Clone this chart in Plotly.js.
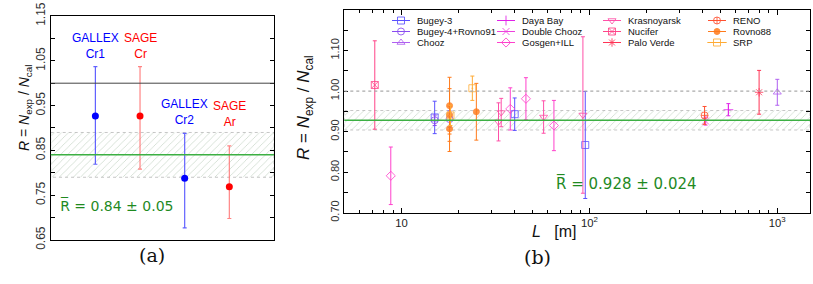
<!DOCTYPE html>
<html><head><meta charset="utf-8">
<script src="https://cdn.plot.ly/plotly-3.0.1.min.js"></script>
<style>body{margin:0;background:#fff}#c{width:813px;height:284px}</style>
</head><body><div id="c"></div><script>
// ---------- Panel (a): Gallium anomaly ----------
const aCategories = ['GALLEX Cr1', 'SAGE Cr', 'GALLEX Cr2', 'SAGE Ar'];
const aExperiment = ['GALLEX', 'SAGE', 'GALLEX', 'SAGE'];
const aR        = [0.927, 0.927, 0.788, 0.769];
const aErrPlus  = [0.110, 0.110, 0.100, 0.091];
const aErrMinus = [0.108, 0.119, 0.111, 0.071];
const aLabelY   = [1.082, 1.082, 0.935, 0.931];
const aMean = 0.84, aSigma = 0.05;

// ---------- Panel (b): reactor anomaly ----------
const bSeries = ['Bugey-3','Bugey-4+Rovno91','Chooz','Daya Bay','Double Chooz','Gosgen+ILL',
                 'Krasnoyarsk','Nucifer','Palo Verde','RENO','Rovno88','SRP'];
const bL = {
  'Bugey-3': [15, 40, 95],
  'Bugey-4+Rovno91': [15, 18],
  'Chooz': [1000],
  'Daya Bay': [549],
  'Double Chooz': [415],
  'Gosgen+ILL': [8.76, 37.9, 45.9, 64.7],
  'Krasnoyarsk': [32.8, 33.9, 57.0, 92.3],
  'Nucifer': [7.2],
  'Palo Verde': [800],
  'RENO': [410],
  'Rovno88': [18, 18, 18, 25],
  'SRP': [18.2, 23.8]
};
const bR = {
  'Bugey-3': [0.935, 0.943, 0.867],
  'Bugey-4+Rovno91': [0.928, 0.931],
  'Chooz': [0.997],
  'Daya Bay': [0.954],
  'Double Chooz': [0.926],
  'Gosgen+ILL': [0.791, 0.956, 0.981, 0.915],
  'Krasnoyarsk': [0.924, 0.947, 0.936, 0.941],
  'Nucifer': [1.015],
  'Palo Verde': [0.997],
  'RENO': [0.940],
  'Rovno88': [0.964, 0.941, 0.907, 0.949],
  'SRP': [0.940, 1.007]
};
const bErr = {
  'Bugey-3': [0.040, 0.040, 0.132],
  'Bugey-4+Rovno91': [0.013, 0.020],
  'Chooz': [0.032],
  'Daya Bay': [0.015],
  'Double Chooz': [0.010],
  'Gosgen+ILL': [0.071, 0.052, 0.052, 0.062],
  'Krasnoyarsk': [0.047, 0.035, 0.040, 0.193],
  'Nucifer': [0.109],
  'Palo Verde': [0.054],
  'RENO': [0.022],
  'Rovno88': [0.070, 0.065, 0.056, 0.070],
  'SRP': [0.025, 0.030]
};
const bMean = 0.928, bSigma = 0.024;

// ---------- styles ----------
const bColor = {
  'Bugey-3':'#5a50ff','Bugey-4+Rovno91':'#8a4cf0','Chooz':'#b060f0','Daya Bay':'#e020e8',
  'Double Chooz':'#ee40dd','Gosgen+ILL':'#ff40cc','Krasnoyarsk':'#ff50a8','Nucifer':'#ff4488',
  'Palo Verde':'#ff3355','RENO':'#ff5030','Rovno88':'#ff7a1a','SRP':'#ffaa33'
};
const bSymbol = {
  'Bugey-3':'square-open','Bugey-4+Rovno91':'circle-open','Chooz':'triangle-up-open',
  'Daya Bay':'cross-thin-open','Double Chooz':'x-thin-open','Gosgen+ILL':'diamond-open',
  'Krasnoyarsk':'triangle-down-open','Nucifer':'square-x-open','Palo Verde':'asterisk-open',
  'RENO':'circle-cross-open','Rovno88':'circle','SRP':'square-open-dot'
};
const bSize = s => (s === 'Rovno88' ? 6 : 7);

const SANS = 'Liberation Sans, Arial, sans-serif';
const GREEN_TXT = '#1f8a1f', GREEN_LINE = '#3cb043';
const hatch = {shape:'/', fgcolor:'rgba(110,150,110,0.45)', bgcolor:'rgba(0,0,0,0)', size:5, solidity:0.12};

const traces = [];
const aRangeX = [0, 5];
const bRangeLog = [0.695, 3.174];

// band (a)
traces.push({x:[aRangeX[0],aRangeX[1],aRangeX[1],aRangeX[0],aRangeX[0]],
  y:[aMean+aSigma,aMean+aSigma,aMean-aSigma,aMean-aSigma,aMean+aSigma],
  xaxis:'x', yaxis:'y', mode:'lines', fill:'toself', fillcolor:'rgba(0,0,0,0)',
  fillpattern:hatch, line:{color:'rgba(160,160,160,0.6)', width:1, dash:'dot'},
  showlegend:false, hoverinfo:'skip'});
// band (b)
const bx0 = Math.pow(10,bRangeLog[0]), bx1 = Math.pow(10,bRangeLog[1]);
traces.push({x:[bx0,bx1,bx1,bx0,bx0],
  y:[bMean+bSigma,bMean+bSigma,bMean-bSigma,bMean-bSigma,bMean+bSigma],
  xaxis:'x2', yaxis:'y2', mode:'lines', fill:'toself', fillcolor:'rgba(0,0,0,0)',
  fillpattern:hatch, line:{color:'rgba(160,160,160,0.6)', width:1, dash:'dot'},
  showlegend:false, hoverinfo:'skip'});

// panel (a) points
const aColors = {GALLEX:'#0000ff', SAGE:'#ff0000'};
const aErrColors = {GALLEX:'rgba(70,70,255,0.85)', SAGE:'rgba(255,110,110,0.85)'};
['GALLEX','SAGE'].forEach(exp => {
  const idx = aCategories.map((c,i)=>i).filter(i => aExperiment[i]===exp);
  traces.push({x: idx.map(i=>i+1), y: idx.map(i=>aR[i]), xaxis:'x', yaxis:'y',
    mode:'markers', type:'scatter', showlegend:false,
    marker:{color:aColors[exp], size:7},
    error_y:{type:'data', symmetric:false, array: idx.map(i=>aErrPlus[i]),
      arrayminus: idx.map(i=>aErrMinus[i]), color:aErrColors[exp], thickness:1.2, width:2}});
});

// panel (b) points
bSeries.forEach((s,i) => {
  traces.push({x:bL[s], y:bR[s], xaxis:'x2', yaxis:'y2', mode:'markers', type:'scatter',
    name:s, showlegend:false,
    marker:{symbol:bSymbol[s], color:bColor[s], size:bSize(s), opacity:0.8, line:{width:1, color:bColor[s]}},
    error_y:{type:'data', array:bErr[s], color:bColor[s], thickness:1, width:2}});
});

// compact legend drawn on an overlay pixel axis (4 columns x 3 rows, column-major)
const legColX = [392, 497, 603, 708];   // left end of legend sample line (px)
const legRowY = [20.5, 31.5, 42.5];     // row centres (px)
const legLine = 18, legTextGap = 23;
const annotations = [];
bSeries.forEach((s,i) => {
  const cx = legColX[Math.floor(i/3)], cy = legRowY[i%3];
  traces.push({x:[cx, cx+legLine/2, cx+legLine], y:[cy,cy,cy], xaxis:'x3', yaxis:'y3',
    mode:'lines+markers', showlegend:false, hoverinfo:'skip',
    line:{color:bColor[s], width:1},
    marker:{symbol:bSymbol[s], color:bColor[s], size:[0,bSize(s),0], opacity:0.85, line:{width:1, color:bColor[s]}}});
  annotations.push({x:(cx+legTextGap)/813, y:1-cy/284, xref:'paper', yref:'paper', xanchor:'left',
    yanchor:'middle', showarrow:false, text:s, font:{family:SANS, size:9.5, color:'#111'}});
});

const axisCommon = {showline:true, linecolor:'#000', linewidth:1, mirror:'ticks', zeroline:false,
  showgrid:false, ticks:'inside', tickcolor:'#000'};

const layout = {
  width:813, height:284, margin:{l:0,r:0,t:0,b:0}, paper_bgcolor:'#fff', plot_bgcolor:'rgba(0,0,0,0)',
  font:{family:SANS, color:'#222'}, showlegend:false,
  xaxis:Object.assign({}, axisCommon, {domain:[0.0624,0.337], range:aRangeX, showticklabels:false,
    ticks:'', anchor:'y'}),
  yaxis:Object.assign({}, axisCommon, {domain:[0.155,0.9437], range:[0.65,1.15], tick0:0.65, dtick:0.1,
    tickformat:'.2f', tickangle:-90, ticklen:4, tickfont:{size:12, color:'#333'}, anchor:'x',
    minor:{dtick:0.05, ticks:'inside', ticklen:4, tickcolor:'#000'}}),
  xaxis2:Object.assign({}, axisCommon, {type:'log', domain:[0.4235,0.9963], range:bRangeLog, dtick:1,
    exponentformat:'power', ticklen:5, tickfont:{size:9, color:'#222'}, anchor:'y2',
    minor:{dtick:'D1', ticks:'inside', ticklen:3, tickcolor:'#000'}}),
  yaxis2:Object.assign({}, axisCommon, {domain:[0.2511,0.9648], range:[0.70,1.20], tick0:0.70, dtick:0.1,
    tickformat:'.2f', tickangle:-90, ticklen:4, tickfont:{size:11, color:'#333'}, anchor:'x2',
    minor:{dtick:0.05, ticks:'inside', ticklen:4, tickcolor:'#000'}}),
  xaxis3:{domain:[0,1], range:[0,813], visible:false, fixedrange:true, anchor:'y3'},
  yaxis3:{domain:[0,1], range:[284,0], visible:false, fixedrange:true, anchor:'x3'},
  shapes:[
    {type:'line', xref:'x domain', yref:'y', x0:0, x1:1, y0:1.0, y1:1.0, line:{color:'#444', width:1}},
    {type:'line', xref:'x domain', yref:'y', x0:0, x1:1, y0:aMean, y1:aMean, line:{color:GREEN_LINE, width:1.5}},
    {type:'line', xref:'x2 domain', yref:'y2', x0:0, x1:1, y0:1.0, y1:1.0, line:{color:'#aaa', width:1.2, dash:'dot'}},
    {type:'line', xref:'x2 domain', yref:'y2', x0:0, x1:1, y0:bMean, y1:bMean, line:{color:GREEN_LINE, width:1.5}}
  ],
  annotations:annotations
};

// category labels (a)
aCategories.forEach((c,i) => {
  layout.annotations.push({x:i+1, y:aLabelY[i], xref:'x', yref:'y', showarrow:false,
    text:c.split(' ').join('<br>'), font:{family:SANS, size:12, color:aColors[aExperiment[i]]}});
});
layout.annotations.push(
  {x:1.48, y:0.728, xref:'x', yref:'y', showarrow:false,
   text:'R\u0305 = ' + aMean.toFixed(2) + ' \u00b1 ' + aSigma.toFixed(2),
   font:{family:'DejaVu Sans, sans-serif', size:14, color:GREEN_TXT}},
  {x:698.7/813, y:1-195/284, xref:'paper', yref:'paper', showarrow:false,
   text:'R\u0305 = ' + bMean.toFixed(3) + ' \u00b1 ' + bSigma.toFixed(3),
   font:{family:'DejaVu Sans, sans-serif', size:15, color:GREEN_TXT}},
  {x:14/813, y:1-108/284, xref:'paper', yref:'paper', showarrow:false, textangle:-90,
   text:'<i>R</i> = <i>N</i><sub>exp</sub> / <i>N</i><sub>cal</sub>',
   font:{family:SANS, size:14, color:'#111'}},
  {x:305/813, y:1-108/284, xref:'paper', yref:'paper', showarrow:false, textangle:-90,
   text:'<i>R</i> = <i>N</i><sub>exp</sub> / <i>N</i><sub>cal</sub>',
   font:{family:SANS, size:17, color:'#111'}},
  {x:578/813, y:1-242/284, xref:'paper', yref:'paper', showarrow:false,
   text:'<i>L</i>   [m]', font:{family:SANS, size:16, color:'#111'}},
  {x:137/813, y:1-268/284, xref:'paper', yref:'paper', showarrow:false,
   text:'(a)', font:{family:'DejaVu Serif, Liberation Serif, serif', size:19, color:'#111'}},
  {x:553/813, y:1-270/284, xref:'paper', yref:'paper', showarrow:false,
   text:'(b)', font:{family:'DejaVu Serif, Liberation Serif, serif', size:19, color:'#111'}}
);

Plotly.newPlot('c', traces, layout, {staticPlot:true, displayModeBar:false});
</script></body></html>
